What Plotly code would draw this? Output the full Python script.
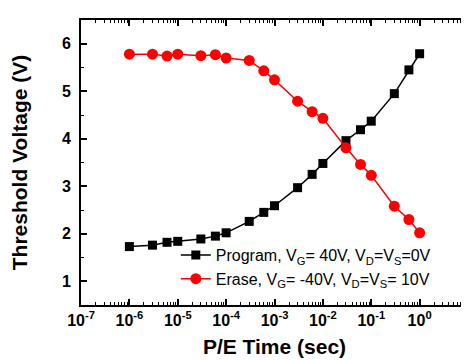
import plotly.graph_objects as go

time_s = [1e-6, 3e-6, 6e-6, 1e-5, 3e-5, 6e-5, 1e-4, 3e-4, 6e-4, 1e-3,
          3e-3, 6e-3, 1e-2, 3e-2, 6e-2, 1e-1, 3e-1, 6e-1, 1.0]
program_vt = [1.73, 1.76, 1.82, 1.84, 1.89, 1.95, 2.02, 2.26, 2.45, 2.59,
              2.97, 3.25, 3.48, 3.96, 4.19, 4.37, 4.95, 5.45, 5.79]
erase_vt = [5.78, 5.78, 5.74, 5.78, 5.75, 5.77, 5.70, 5.65, 5.43, 5.24,
            4.79, 4.57, 4.43, 3.81, 3.46, 3.23, 2.58, 2.30, 2.02]

x_tickvals = [1e-7, 1e-6, 1e-5, 1e-4, 1e-3, 1e-2, 1e-1, 1e0, 1e1]
x_ticktext = ["10<sup>-7</sup>", "10<sup>-6</sup>", "10<sup>-5</sup>", "10<sup>-4</sup>",
              "10<sup>-3</sup>", "10<sup>-2</sup>", "10<sup>-1</sup>", "10<sup>0</sup>",
              "10<sup>1</sup>"]
y_tickvals = [1, 2, 3, 4, 5, 6]

FONT = "Liberation Sans, Arial, sans-serif"

fig = go.Figure()
fig.add_trace(go.Scatter(
    x=time_s, y=program_vt, mode="lines+markers",
    name="Program, V<sub>G</sub>= 40V, V<sub>D</sub>=V<sub>S</sub>=0V",
    line=dict(color="black", width=1.5),
    marker=dict(symbol="square", size=9, color="black"),
))
fig.add_trace(go.Scatter(
    x=time_s, y=erase_vt, mode="lines+markers",
    name="Erase, V<sub>G</sub>= -40V, V<sub>D</sub>=V<sub>S</sub>= 10V",
    line=dict(color="#ff0000", width=1.5),
    marker=dict(symbol="circle", size=11, color="#ff0000"),
))

axis_common = dict(
    showline=True, linecolor="black", linewidth=2, mirror="allticks",
    ticks="inside", ticklen=6, tickwidth=1.5, tickcolor="black",
    showgrid=False, zeroline=False, automargin=False,
    tickfont=dict(family=FONT, size=16, color="black", weight="bold"),
)

fig.update_xaxes(
    type="log", range=[-7, 1],
    tickvals=x_tickvals, ticktext=x_ticktext,
    minor=dict(ticks="inside", ticklen=3, tickwidth=1, tickcolor="black", dtick="D1", showgrid=False),
    title=dict(text="P/E Time (sec)", font=dict(family=FONT, size=21, color="black", weight="bold"), standoff=11),
    **axis_common,
)
fig.update_yaxes(
    range=[0.5, 6.5], tickvals=y_tickvals,
    minor=dict(ticks="inside", ticklen=3, tickwidth=1, tickcolor="black", dtick=0.5, showgrid=False),
    ticklabelstandoff=5,
    title=dict(text="Threshold Voltage (V)", font=dict(family=FONT, size=21, color="black", weight="bold"), standoff=34),
    **axis_common,
)

fig.update_layout(
    width=469, height=360,
    margin=dict(l=73, r=9, t=12, b=63),
    paper_bgcolor="white", plot_bgcolor="white",
    showlegend=True,
    legend=dict(x=0.245, y=0.235, xanchor="left", yanchor="top",
                bgcolor="rgba(0,0,0,0)", font=dict(family=FONT, size=16, color="black"),
                tracegroupgap=0, itemwidth=30),
)

fig.write_html("out.html")
